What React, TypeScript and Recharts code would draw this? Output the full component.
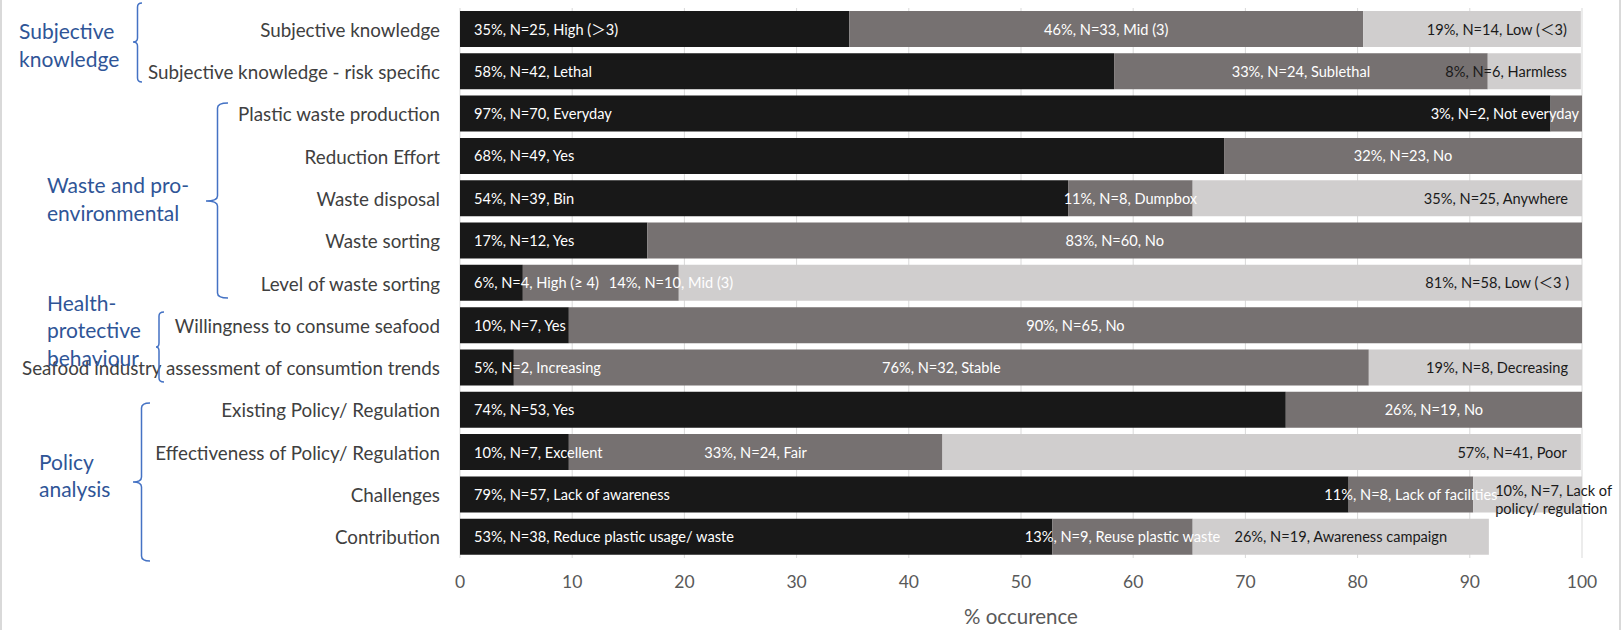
import React from 'react';
import { BarChart, Bar, XAxis, YAxis, CartesianGrid, LabelList } from 'recharts';

// ---------- data ----------
const categories = [
  'Subjective knowledge',
  'Subjective knowledge - risk specific',
  'Plastic waste production',
  'Reduction Effort',
  'Waste disposal',
  'Waste sorting',
  'Level of waste sorting',
  'Willingness to consume seafood',
  'Seafood industry assessment of consumtion trends',
  'Existing Policy/ Regulation',
  'Effectiveness of Policy/ Regulation',
  'Challenges',
  'Contribution',
];

const firstShare = [34.7, 58.3, 97.2, 68.1, 54.2, 16.7, 5.6, 9.7, 4.8, 73.6, 9.7, 79.2, 52.8];
const secondShare = [45.8, 33.3, 2.8, 31.9, 11.1, 83.3, 13.9, 90.3, 76.2, 26.4, 33.3, 11.1, 12.5];
const thirdShare: (number | null)[] = [19.4, 8.3, null, null, 34.7, null, 80.6, null, 19.0, null, 56.9, 9.7, 26.4];

const firstLabels = [
  '35%, N=25, High (＞3)',
  '58%, N=42, Lethal',
  '97%, N=70, Everyday',
  '68%, N=49, Yes',
  '54%, N=39, Bin',
  '17%, N=12, Yes',
  '6%, N=4, High (≥ 4)',
  '10%, N=7, Yes',
  '5%, N=2, Increasing',
  '74%, N=53, Yes',
  '10%, N=7, Excellent',
  '79%, N=57, Lack of awareness',
  '53%, N=38, Reduce plastic usage/ waste',
];
const secondLabels = [
  '46%, N=33, Mid (3)',
  '33%, N=24, Sublethal',
  '3%, N=2, Not everyday',
  '32%, N=23, No',
  '11%, N=8, Dumpbox',
  '83%, N=60, No',
  '14%, N=10, Mid (3)',
  '90%, N=65, No',
  '76%, N=32, Stable',
  '26%, N=19, No',
  '33%, N=24, Fair',
  '11%, N=8, Lack of facilities',
  '13%, N=9, Reuse plastic waste',
];
const thirdLabels = [
  '19%, N=14, Low (＜3)',
  '8%, N=6, Harmless',
  '',
  '',
  '35%, N=25, Anywhere',
  '',
  '81%, N=58, Low (＜3 )',
  '',
  '19%, N=8, Decreasing',
  '',
  '57%, N=41, Poor',
  '10%, N=7, Lack of\npolicy/ regulation',
  '26%, N=19, Awareness campaign',
];

const xTicks = [0, 10, 20, 30, 40, 50, 60, 70, 80, 90, 100];

const groupTitles = [
  ['Subjective', 'knowledge'],
  ['Waste and pro-', 'environmental'],
  ['Health-', 'protective', 'behaviour'],
  ['Policy', 'analysis'],
];

// ---------- label placement (not data) ----------
const secondPlace = ['center', 'center', 'endTight', 'center', 'center', 'center', 'after', 'center', 'center', 'center', 'center', 'center', 'center'];
const thirdPlace = ['end', 'end', '', '', 'end', '', 'end', '', 'end', '', 'end', 'wrap', 'center'];

const FONT = "Lato, 'Noto Sans CJK SC', sans-serif";
const LABEL_SIZE = 14.6;
const C_FIRST = '#181818';
const C_SECOND = '#767171';
const C_THIRD = '#D0CECE';

const data = categories.map((name, i) => ({
  name,
  s1: firstShare[i],
  s2: secondShare[i],
  s3: thirdShare[i],
  full: 100,
}));

let measureCtx: CanvasRenderingContext2D | null = null;
function measureText(t: string): number {
  if (!measureCtx) {
    const c = document.createElement('canvas');
    measureCtx = c.getContext('2d');
  }
  if (!measureCtx) return t.length * 7;
  measureCtx.font = `${LABEL_SIZE}px Lato, 'Noto Sans CJK SC', sans-serif`;
  return measureCtx.measureText(t).width;
}

const textProps = (fill: string) => ({
  fill,
  fontSize: LABEL_SIZE,
  fontFamily: FONT,
  dominantBaseline: 'central' as const,
});

const AllLabels = (props: any) => {
  const { x, y, width, height, index } = props;
  if (x == null || width == null || index == null) return null;
  const px = (p: number) => x + (width * p) / 100;
  const cy = y + height / 2;
  const a = firstShare[index];
  const b = secondShare[index];
  const c = thirdShare[index];
  const out: React.ReactNode[] = [];
  // first segment
  const s1x0 = px(0);
  out.push(
    <text key="a" x={s1x0 + 14} y={cy} textAnchor="start" {...textProps('#ffffff')}>
      {firstLabels[index]}
    </text>
  );
  // second segment
  const s2x0 = px(a);
  const s2x1 = px(a + b);
  const m2 = secondPlace[index];
  let t2: React.ReactNode = null;
  if (m2 === 'center') {
    t2 = <text key="b" x={(s2x0 + s2x1) / 2} y={cy} textAnchor="middle" {...textProps('#ffffff')}>{secondLabels[index]}</text>;
  } else if (m2 === 'endTight') {
    t2 = <text key="b" x={s2x1 - 3} y={cy} textAnchor="end" {...textProps('#ffffff')}>{secondLabels[index]}</text>;
  } else if (m2 === 'after') {
    const startX = s1x0 + 14 + measureText(firstLabels[index]) + 10;
    t2 = <text key="b" x={startX} y={cy} textAnchor="start" {...textProps('#ffffff')}>{secondLabels[index]}</text>;
  }
  out.push(t2);
  // third segment
  if (c != null && thirdLabels[index]) {
    const s3x0 = px(a + b);
    const s3x1 = px(a + b + c);
    const m3 = thirdPlace[index];
    const txt = thirdLabels[index];
    if (m3 === 'end') {
      out.push(<text key="c" x={s3x1 - 14} y={cy} textAnchor="end" {...textProps('#1a1a1a')}>{txt}</text>);
    } else if (m3 === 'center') {
      out.push(<text key="c" x={(s3x0 + s3x1) / 2} y={cy} textAnchor="middle" {...textProps('#1a1a1a')}>{txt}</text>);
    } else if (m3 === 'wrap') {
      const lines = txt.split('\n');
      out.push(
        <g key="c">
          {lines.map((ln, k) => (
            <text key={k} x={s3x0 + 22} y={cy - 4 + k * 18.5} textAnchor="start" {...textProps('#1a1a1a')}>{ln}</text>
          ))}
        </g>
      );
    }
  }
  return <g>{out}</g>;
};

const CategoryTick = (props: any) => {
  const { x, y, payload } = props;
  return (
    <text x={x} y={y} textAnchor="end" dominantBaseline="central" fill="#404040" fontSize={18.8} fontFamily={FONT}>
      {payload.value}
    </text>
  );
};

const ValueTick = (props: any) => {
  const { x, y, payload } = props;
  return (
    <text x={x} y={y} dy="0.71em" textAnchor="middle" fill="#595959" fontSize={17.5} fontFamily={FONT}>
      {payload.value}
    </text>
  );
};

const BLUE_TEXT = '#2F5597';
const BLUE_LINE = '#4472C4';

const Overlay = () => {
  const titleProps = { fill: BLUE_TEXT, fontSize: 21, fontFamily: FONT, dominantBaseline: 'central' as const };
  const titlePos = [
    { x: 19, ys: [30, 58] },
    { x: 47, ys: [184, 212] },
    { x: 47, ys: [302, 329, 357] },
    { x: 39, ys: [461, 488] },
  ];
  const braces = [
    'M142,3 Q137.5,3 137.5,7 L137.5,38 Q137.5,42 133,42 Q137.5,42 137.5,46 L137.5,78 Q137.5,82 142,82',
    'M228,103 Q217.5,103 217.5,108 L217.5,196 Q217.5,201 206,201 Q217.5,201 217.5,206 L217.5,293 Q217.5,298 228,298',
    'M164,312 Q159,312 159,316 L159,343 Q159,347 156,347 Q159,347 159,351 L159,378 Q159,382 164,382',
    'M150,403 Q141.5,403 141.5,408 L141.5,477 Q141.5,482 133,482 Q141.5,482 141.5,487 L141.5,556 Q141.5,561 150,561',
  ];
  return (
    <svg width={1624} height={630} style={{ position: 'absolute', left: 0, top: 0, pointerEvents: 'none' }}>
      <line x1={1} y1={0} x2={1} y2={630} stroke="#d9d9d9" strokeWidth={2} />
      <line x1={1620} y1={0} x2={1620} y2={630} stroke="#d9d9d9" strokeWidth={2} />
      {braces.map((d, i) => (
        <path key={i} d={d} fill="none" stroke={BLUE_LINE} strokeWidth={1.5} />
      ))}
      {groupTitles.map((lines, gi) =>
        lines.map((ln, li) => (
          <text key={`${gi}-${li}`} x={titlePos[gi].x} y={titlePos[gi].ys[li]} {...titleProps}>
            {ln}
          </text>
        ))
      )}
    </svg>
  );
};

export default function App() {
  return (
    <div style={{ position: 'absolute', left: 0, top: 0, width: 1624, height: 630, background: '#ffffff', fontFamily: FONT }}>
      <BarChart
        width={1624}
        height={630}
        data={data}
        layout="vertical"
        margin={{ top: 8, right: 42, bottom: 0, left: 0 }}
      >
        <CartesianGrid horizontal={false} stroke="#d9d9d9" />
        <XAxis
          type="number"
          domain={[0, 100]}
          ticks={xTicks}
          allowDataOverflow
          height={72}
          axisLine={false}
          tickLine={false}
          tickSize={0}
          tickMargin={18}
          tick={<ValueTick />}
          label={{ value: '% occurence', position: 'insideBottom', offset: 6, fill: '#595959', fontSize: 20.5, fontFamily: FONT }}
        />
        <YAxis
          type="category"
          dataKey="name"
          width={460}
          axisLine={false}
          tickLine={false}
          tickSize={0}
          tickMargin={20}
          interval={0}
          tick={<CategoryTick />}
        />
        <YAxis yAxisId="ov" type="category" dataKey="name" hide />
        <Bar dataKey="s1" stackId="a" fill={C_FIRST} barSize={36} isAnimationActive={false} />
        <Bar dataKey="s2" stackId="a" fill={C_SECOND} barSize={36} isAnimationActive={false} />
        <Bar dataKey="s3" stackId="a" fill={C_THIRD} barSize={36} isAnimationActive={false} />
        <Bar yAxisId="ov" dataKey="full" fill="none" fillOpacity={0} barSize={36} isAnimationActive={false}>
          <LabelList dataKey="full" content={<AllLabels />} />
        </Bar>
      </BarChart>
      <Overlay />
    </div>
  );
}
